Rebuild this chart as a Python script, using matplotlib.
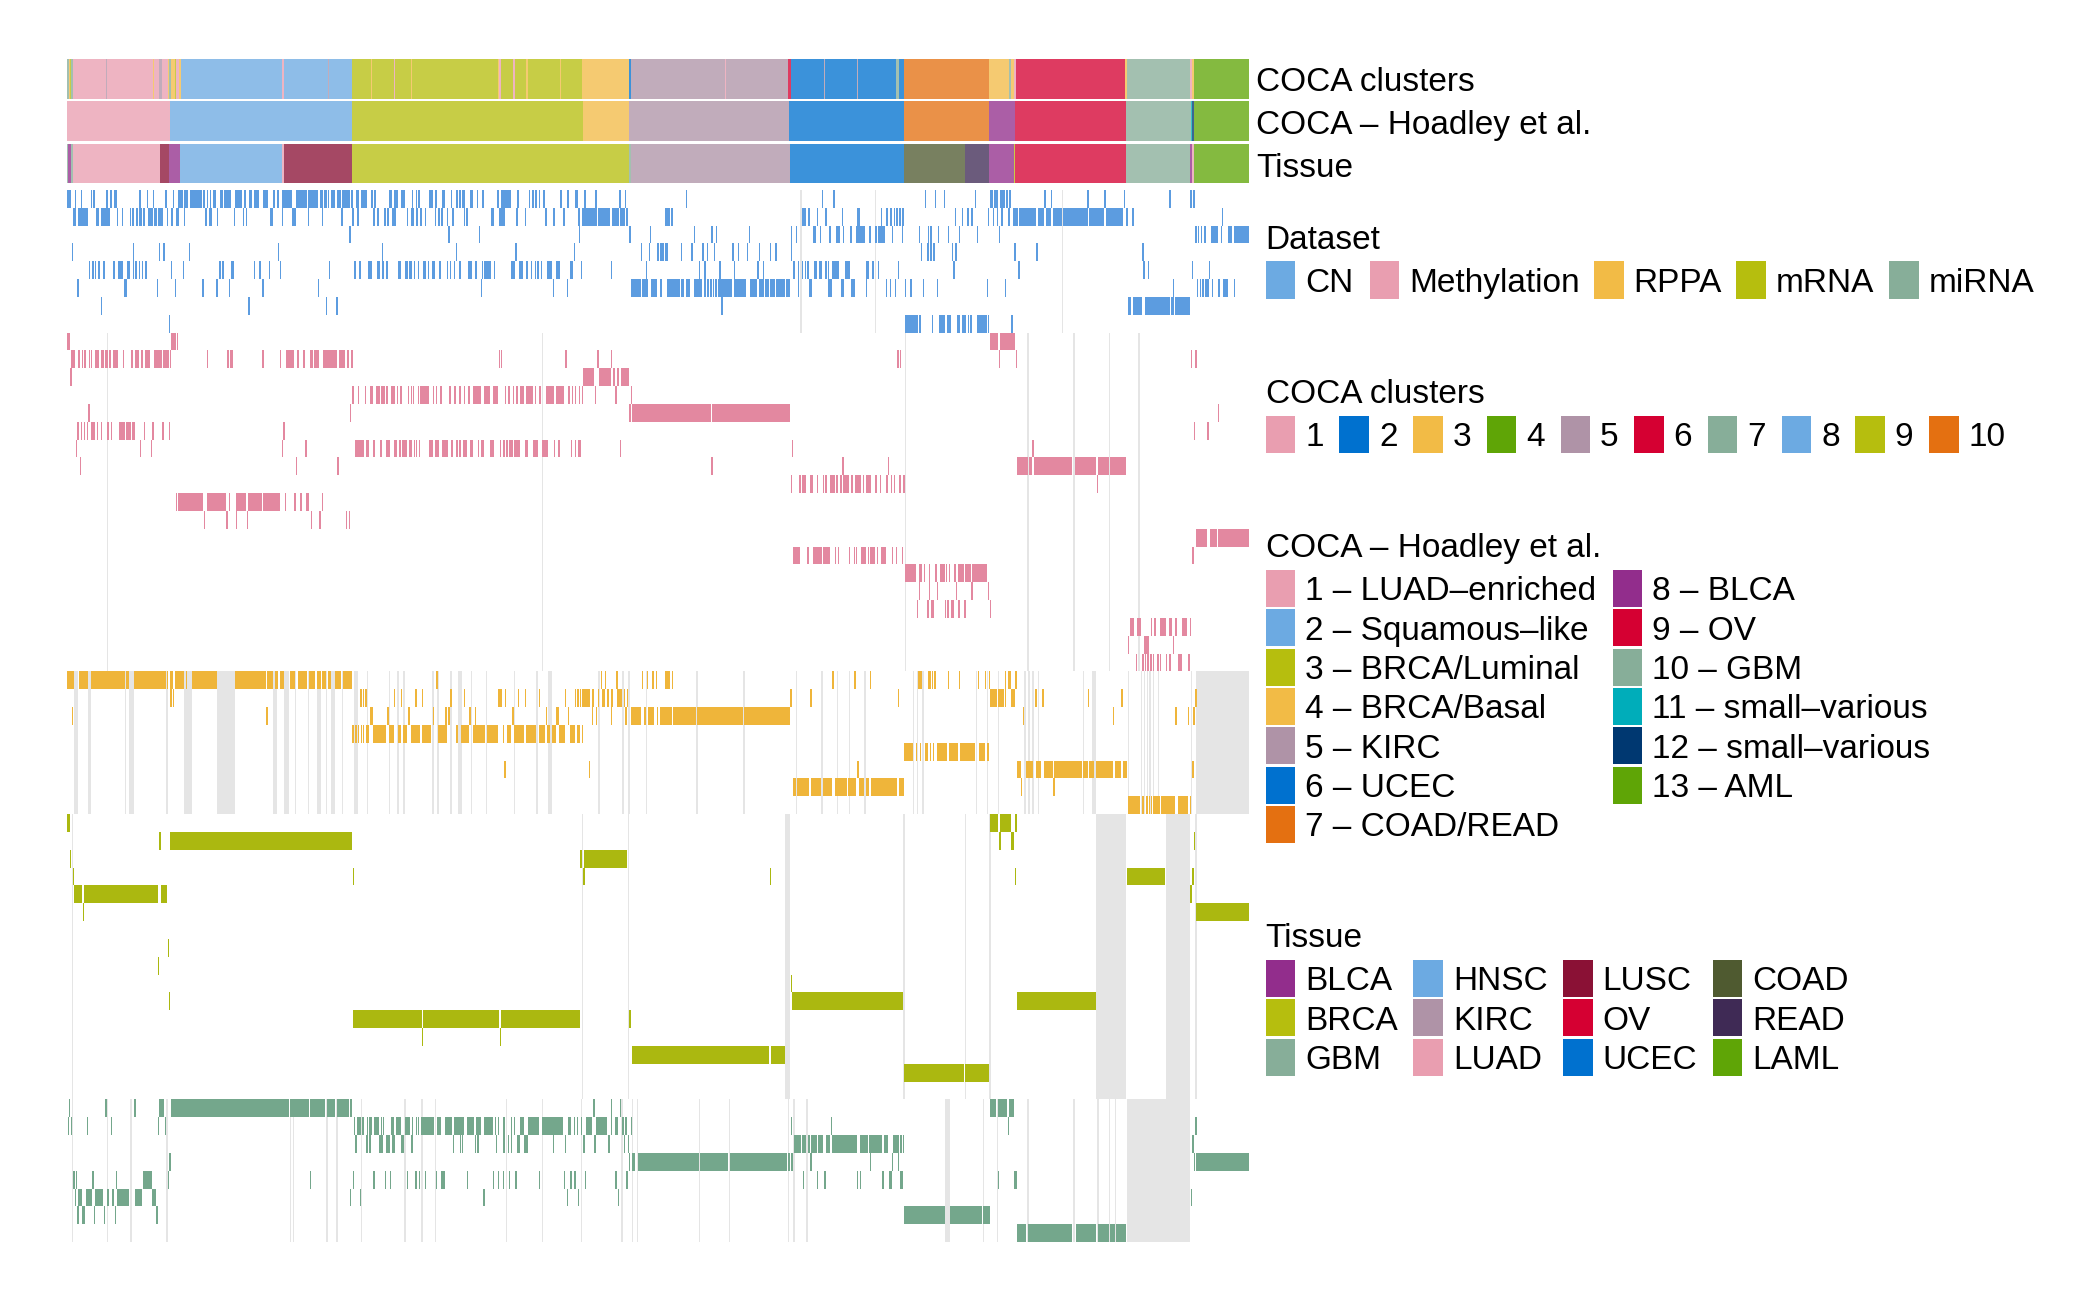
import matplotlib
matplotlib.use("Agg")
import matplotlib.pyplot as plt
from matplotlib.patches import Rectangle

plt.rcParams['font.family'] = ['Liberation Sans', 'DejaVu Sans']

# *_A lists hold the left part of the matrix, *_B the right part (shifted by B_SHIFT)
B_SHIFT = 1543
X_MIN, X_MAX = 43, 3033
TICK = 3.5

CLUSTER_COLORS = {'1': '#E99EB0', '2': '#0071CF', '3': '#F2BB46', '4': '#5FA506', '5': '#AF93A7',
                  '6': '#D50032', '7': '#87AE99', '8': '#6CAAE2', '9': '#B6BE0E', '10': '#E47011'}
HOADLEY_COLORS = {'1 – LUAD–enriched': '#E99EB0', '2 – Squamous–like': '#6CAAE2', '3 – BRCA/Luminal': '#B6BE0E',
                  '4 – BRCA/Basal': '#F2BB46', '5 – KIRC': '#AF93A7', '6 – UCEC': '#0071CF',
                  '7 – COAD/READ': '#E47011', '8 – BLCA': '#922D8C', '9 – OV': '#D50032', '10 – GBM': '#87AE99',
                  '11 – small–various': '#00ADBA', '12 – small–various': '#003871', '13 – AML': '#5FA506'}
TISSUE_COLORS = {'BLCA': '#922D8C', 'BRCA': '#B6BE0E', 'GBM': '#87AE99', 'HNSC': '#6CAAE2', 'KIRC': '#AF93A7',
                 'LUAD': '#E99EB0', 'LUSC': '#8A1135', 'OV': '#D50032', 'UCEC': '#0071CF', 'COAD': '#4F5A30',
                 'READ': '#3F2A55', 'LAML': '#5FA506'}
DATASET_COLORS = {'CN': '#6CAAE2', 'Methylation': '#E99EB0', 'RPPA': '#F2BB46', 'mRNA': '#B6BE0E', 'miRNA': '#87AE99'}

# top annotation tracks: (start, end, category)
TRACK_CLUSTERS = [(43, 47, '7'), (47, 50, '3'), (50, 54, '9'), (54, 58, '7'), (58, 141, '1'), (141, 144, '5'),
                  (144, 260, '1'), (260, 263, '3'), (263, 276, '1'), (276, 283, '5'), (283, 298, '1'), (298, 302, '3'),
                  (302, 305, '7'), (305, 316, '3'), (316, 319, '9'), (319, 327, '1'), (327, 331, '3'),
                  (331, 586, '8'), (586, 592, '1'), (592, 703, '8'), (703, 705, '5'), (705, 764, '8'),
                  (764, 812, '9'), (812, 814, '3'), (814, 870, '9'), (870, 873, '1'), (873, 912, '9'), (912, 915, '3'),
                  (915, 1134, '9'), (1134, 1137, '3'), (1137, 1140, '1'), (1140, 1172, '9'), (1172, 1177, '1'),
                  (1177, 1205, '9'), (1205, 1208, '3'), (1208, 1290, '9'), (1290, 1293, '3'), (1293, 1345, '9'),
                  (1345, 1348, '3'), (1348, 1464, '3'), (1464, 1470, '2'),
                  (1470, 1707, '5'), (1707, 1710, '1'), (1710, 1868, '5'), (1868, 1875, '6'),
                  (1875, 1958, '2'), (1958, 1960, '5'), (1960, 2041, '2'), (2041, 2043, '5'), (2043, 2095, '2'),
                  (2095, 2141, '2'), (2141, 2147, '7'), (2147, 2160, '2'), (2160, 2376, '10'), (2376, 2425, '3'),
                  (2425, 2430, '7'), (2430, 2438, '3'), (2438, 2443, '1'), (2443, 2720, '6'), (2720, 2725, '3'),
                  (2725, 2885, '7'), (2885, 2889, '1'), (2889, 2895, '3'), (2895, 3033, '4')]
TRACK_HOADLEY = [(43, 303, '1 – LUAD–enriched'), (303, 765, '2 – Squamous–like'), (765, 1348, '3 – BRCA/Luminal'),
                 (1348, 1464, '4 – BRCA/Basal'), (1464, 1870, '5 – KIRC'), (1870, 2160, '6 – UCEC'),
                 (2160, 2376, '7 – COAD/READ'), (2376, 2442, '8 – BLCA'), (2442, 2721, '9 – OV'),
                 (2721, 2887, '10 – GBM'), (2887, 2890, '11 – small–various'), (2890, 2895, '12 – small–various'),
                 (2895, 3033, '13 – AML')]
TRACK_TISSUE = [(43, 46, 'GBM'), (46, 53, 'BLCA'), (53, 58, 'GBM'), (58, 277, 'LUAD'), (277, 302, 'LUSC'),
                (302, 330, 'BLCA'), (330, 588, 'HNSC'), (588, 592, 'LUAD'), (592, 765, 'LUSC'), (765, 1464, 'BRCA'),
                (1464, 1470, 'GBM'), (1470, 1871, 'KIRC'), (1871, 2160, 'UCEC'), (2160, 2314, 'COAD'),
                (2314, 2375, 'READ'), (2375, 2438, 'BLCA'), (2438, 2441, 'BRCA'), (2441, 2721, 'OV'),
                (2721, 2884, 'GBM'), (2884, 2890, 'BLCA'), (2890, 2895, 'LUAD'), (2895, 3033, 'LAML')]

CN_A = [
    [(43, 53), (62, 66), (78, 82), (103, 106), (109, 114), (142, 146), (152, 158), (163, 170), 226, 245, 260, (290, 297), 310,
     (323, 336), (340, 349), (353, 384), (387, 392), 396, 404, (412, 419), (431, 437), (440, 458), (468, 485), (492, 497),
     (503, 512), (517, 529), (539, 552), (563, 570), (574, 580), (588, 613), (623, 650), (653, 677), (682, 690), (693, 700),
     703, (712, 722), (725, 736), (739, 759), 762, (774, 782), (787, 803), 813, 820, (858, 866), (870, 880), (887, 898),
     916, 925, 932, (958, 968), 975, (992, 999), 1014, (1027, 1032), 1035, (1042, 1050), (1063, 1069), 1079, 1094,
     (1130, 1137), (1141, 1165), 1182, 1211, 1220, 1228, 1236, 1248, 1291, 1309, (1327, 1335), 1352, 1379, 1440, 1454],
    [(57, 65), (70, 97), (117, 125), (130, 152), 169, 182, 202, 208, 218, (226, 232), (234, 240), (248, 260), (263, 270),
     (273, 286), 296, (306, 311), (318, 326), 339, (391, 396), (401, 410), 422, 465, 488, 496, (557, 563), 586, (613, 623),
     652, 687, 737, 765, (776, 781), (818, 823), (826, 833), (845, 850), (853, 858), (866, 874), 902, (913, 920), (925, 931),
     (936, 941), 948, 973, 982, 990, 1003, 1018, (1046, 1050), 1053, (1116, 1124), (1137, 1150), 1180, 1201, 1253, 1273,
     (1297, 1304), 1336, (1345, 1350), (1352, 1384), (1386, 1416), (1421, 1440), (1443, 1454), (1456, 1463), (1555, 1568)],
    [757, 1008, 1085, 1338, (1464, 1470), 1517],
    [55, 209, 276, 287, 351, 576, 839, 1026, 1177, 1325, 1494, 1514, (1535, 1540), (1545, 1550), (1555, 1563)],
    [98, 107, 114, 122, 135, 160, (173, 185), (196, 203), 209, 216, 224, 232, 241, 305, 336, 428, 436, (459, 465), 515,
     (529, 535), 553, 582, 705, (769, 774), (781, 786), (804, 814), (828, 834), (839, 846), (851, 856), (881, 888), (898, 905),
     (909, 915), 921, 930, (944, 950), 955, (967, 973), (983, 990), 1003, 1012, 1022, 1035, (1057, 1068), (1075, 1081), 1092,
     (1098, 1116), 1122, (1166, 1176), (1186, 1197), (1203, 1210), 1216, 1226, 1233, 1242, (1256, 1271), (1280, 1290),
     (1315, 1323), 1342, 1418, 1507],
    [69, (188, 194), 270, 316, 385, 421, 452, 537, 677, 1089, 1272, 1307, (1470, 1494), (1498, 1513), (1520, 1536),
     (1542, 1549), (1560, 1568)],
    [129, 502, 698, 724],
    [300],
]
CN_B = [
    [65, 410, 438, 670, 695, 718, 797, (836, 842), (845, 854), (859, 864), (866, 872), (875, 881), 884, 972, 989, 1081, 1124,
     1173, 1288, 1342, 1349],
    [13, 20, (28, 33), (358, 370), (375, 380), 397, 418, 460, (498, 507), 558, (572, 578), (582, 588), 591, 598, 605, (612, 617),
     746, 763, (776, 782), (788, 793), 829, 842, 852, 863, 881, (893, 905), (908, 950), (955, 972), (976, 990), (993, 1018),
     (1020, 1082), (1085, 1124), (1128, 1172), (1179, 1184), 1195, 1421],
    [85, 130, 142, 225, 331, 343, (386, 395), 405, 428, (446, 455), 462, 481, (495, 506), (507, 519), 530, (545, 550), (552, 558),
     (560, 568), 587, 611, 654, 677, 684, 703, 728, 756, 801, 857, (1353, 1358), 1361, 1368, (1375, 1380), (1395, 1412), 1418,
     (1437, 1448), (1451, 1490)],
    [0, 6, (13, 18), 52, 79, (107, 112), 118, 136, 183, 197, 220, 250, 278, 292, 331, 660, (675, 680), 684, 691, 738, 747, 896,
     952, 1220],
    [98, 112, 150, 187, 246, 260, (336, 342), 349, 358, 366, 373, (389, 397), (403, 410), 418, 424, (434, 452), (469, 481),
     (522, 530), (536, 542), 551, 601, 742, 906, 1223, 1234, 1346, 1388],
    [2, (23, 50), (52, 62), (66, 76), (86, 107), (111, 117), (119, 124), 127, 134, 140, (147, 182), (188, 218), (227, 245),
     (250, 262), (265, 276), (279, 291), (293, 315), (318, 328), 349, (377, 384), (425, 434), (457, 466), (484, 494), 520, 571,
     581, 594, 619, 633, 665, 700, 827, 872, 1297, 1358, 1366, 1372, 1379, 1385, 1396, (1411, 1417), (1424, 1437), 1452],
    [155, (1184, 1191), (1196, 1220), (1228, 1290), (1293, 1300), (1304, 1342)],
    [(621, 652), 656, 688, (706, 722), (726, 737), (751, 760), (763, 775), 778, 785, (803, 826), 830, 889],
]
CN_NA_A = []
CN_NA_B = [355, 543, 1017]

METH_A = [
    [(43, 50), (307, 318), 321],
    [(54, 64), (70, 75), 81, 87, 98, 103, (113, 125), (128, 136), (140, 146), 150, (160, 173), 184, 206, (215, 225), (230, 236),
     (240, 254), (262, 283), (287, 300), 303, 396, 449, (455, 464), 537, 582, (596, 617), (625, 631), (639, 645), (658, 666),
     (667, 680), (690, 725), (731, 747), 752, 762, 1135, 1141, (1302, 1308), (1383, 1390), 1419],
    [51, (1348, 1377), (1390, 1418), (1424, 1430), (1434, 1440), (1444, 1464)],
    [(765, 770), 779, 797, (809, 817), (824, 834), (838, 848), 851, (863, 872), 878, 886, 905, 912, 918, 930, (937, 958), 968, 976,
     (986, 992), 1010, 1023, 1035, 1046, 1058, (1070, 1090), (1099, 1114), (1120, 1134), 1150, 1159, 1170, 1180, (1190, 1198),
     (1204, 1222), 1226, (1237, 1243), (1254, 1275), (1281, 1301), (1311, 1316), 1320, 1328, 1337, 1345, 1378, 1430, 1469],
    [97, 758, 1465, (1472, 1568)],
    [69, 78, 86, 93, (103, 115), 119, 129, (145, 150), 154, (174, 190), (192, 204), (207, 215), 237, 259, 284, 300, 590],
    [66, 227, 255, 586, 646, (771, 794), (800, 808), (818, 823), 836, (850, 860), (870, 878), (882, 888), (890, 903), (907, 915), 920,
     925, 933, (958, 970), (975, 985), (992, 1007), (1015, 1020), (1027, 1032), 1035, (1045, 1055), (1063, 1070), 1082, (1090, 1097),
     (1112, 1122), 1138, 1147, 1154, (1160, 1170), (1175, 1190), (1202, 1210), (1222, 1234), (1245, 1260), 1275, 1286, 1318, 1327,
     (1335, 1344), 1441],
    [75, 622, 727],
    [],
    [319, (325, 388), (398, 444), 453, (470, 497), (502, 536), (540, 581), 594, 618, 633, (648, 655), 687],
    [389, 446, 470, 498, 660, 681, 748, 756],
    [], [], [], [], [], [], [], [],
]
METH_B = [
    [(836, 856), (860, 898)],
    [600, 607, 857, 900, 1343, 1354],
    [],
    [],
    [(0, 128), (132, 329), 1411],
    [1350, (1384, 1390)],
    [333, 942],
    [130, 461, 577, (903, 930), (934, 941), (945, 1043), (1050, 1103), (1107, 1135), (1138, 1180)],
    [331, 352, (358, 370), (380, 388), 397, 412, 418, (431, 443), (446, 450), (455, 461), (463, 478), (482, 488), (494, 508), 513,
     (522, 534), (544, 550), 556, 573, 584, 591, 605, 616, 1105],
    [],
    [],
    [(1357, 1384), (1391, 1408), (1412, 1490)],
    [(336, 354), (371, 378), (388, 410), (413, 430), 442, 450, 478, 490, 495, (509, 520), 525, (532, 543), 549, (560, 572), 586,
     596, 611, 1347],
    [(621, 648), (656, 662), 668, 680, (695, 702), (708, 720), 723, 730, (744, 750), (755, 768), (772, 786), (790, 828)],
    [655, 680, 700, 748, 788, 829],
    [650, (675, 680), (686, 693), 721, (727, 732), (735, 743), 755, 770, 834],
    [(1188, 1200), (1207, 1218), 1241, 1250, (1265, 1280), (1287, 1295), 1304, (1321, 1332), 1340],
    [1184, (1225, 1236), 1298],
    [1203, 1220, 1226, 1233, 1240, 1246, 1258, 1264, 1280, 1288, (1311, 1320), 1336],
]
METH_NA_A = [143, 1244]
METH_NA_B = [619, 929, (1044, 1049), 1136, 1210]

RPPA_A = [
    [(43, 60), (73, 96), (104, 189), (191, 201), (212, 293), 296, (303, 312), (315, 339), 343, (360, 422), (468, 546), (550, 563),
     (570, 578), (582, 592), (606, 620), (628, 650), (655, 670), (675, 685), (689, 698), (702, 712), (722, 736), (740, 763), 977,
     1393, 1403, 1433, 1497, 1509, 1524, 1532, (1556, 1568)],
    [304, 310, 785, 791, 798, 870, 887, 924, 941, 1013, 1046, (1134, 1143), 1150, 1184, 1201, 1236, 1303, 1328, 1334, 1340,
     (1347, 1360), 1362, (1370, 1377), 1385, (1396, 1403), (1408, 1415), 1420, (1435, 1448), 1451, 1459],
    [55, 547, (810, 816), 853, 906, 969, 1000, 1008, 1061, 1074, 1169, 1254, (1281, 1287), 1310, 1370, 1381, 1418, 1455,
     (1470, 1496), 1503, (1513, 1528), 1535, (1542, 1568)],
    [765, 772, 779, 786, 792, (800, 808), (817, 851), (858, 870), (880, 887), (894, 904), (912, 937), (942, 965), (982, 1005),
     (1026, 1033), (1040, 1060), (1070, 1100), (1105, 1134), 1145, (1155, 1167), (1175, 1198), (1204, 1230), (1238, 1252),
     (1258, 1266), (1270, 1280), (1288, 1302), (1315, 1327), (1332, 1340), 1345],
    [],
    [1149, 1363],
    [],
    [],
]
RPPA_B = [
    [13, 20, 30, (435, 441), 492, 531, (652, 662), (678, 685), 687, 694, 728, 756, 804, 822, 832, 872, (880, 887), 899],
    [(329, 335), 380, 601, (836, 852), (856, 870), 873, (888, 898), 949, 967, 1082, 1167, 1354],
    [(0, 12), (15, 20), (22, 30), (34, 91), (94, 210), (212, 329), 918, 1146, (1303, 1309), 1335, 1349],
    [],
    [(618, 640), 647, 657, (670, 677), 683, 690, (702, 726), (730, 755), (758, 798), (808, 822), 828],
    [499, (903, 912), (927, 943), (950, 965), (972, 993), (997, 1067), (1071, 1082), (1086, 1097), (1103, 1145), (1150, 1167),
     (1172, 1181), 1347],
    [(336, 343), (346, 378), (382, 408), (413, 434), (442, 473), (476, 496), (503, 516), (522, 530), (534, 600), (605, 617), 913, 995],
    [(1183, 1215), 1220, 1230, 1236, 1242, (1248, 1264), (1268, 1303), (1310, 1335), 1340],
]
RPPA_NA_A = [(60, 71), (96, 103), 189, (201, 212), 294, (340, 359), (422, 468), (565, 575), (592, 605), 620, 652, (675, 686), 698,
             (712, 722), 738, (768, 778), 802, 857, (878, 884), (892, 898), 967, 980, (1012, 1017), (1032, 1042), 1064, 1103, 1174,
             1230, (1260, 1270), (1385, 1392), 1448, 1463, 1507]
RPPA_NA_B = [92, 211, 344, (408, 412), 447, 478, 517, 640, 649, 664, 799, 826, 854, 922, 932, 942, 956, 1069, (1093, 1103), 1183,
             1216, 1224, 1232, 1238, 1246, 1260, 1343, (1356, 1490)]

MRNA_A = [
    [(43, 50)],
    [(275, 282), (303, 764)],
    [50, 1341, (1352, 1460)],
    [58, 766, 1349],
    [(61, 80), (87, 272), (282, 296)],
    [83],
    [],
    [298],
    [273],
    [],
    [300],
    [(767, 940), (943, 1137), (1140, 1340), (1464, 1470)],
    [941, 1138],
    [(1471, 1568)],
    [],
    [],
]
MRNA_B = [
    [(836, 856), (860, 887), 899],
    [858, (889, 895), 1350],
    [],
    [278, 897, (1181, 1278), 1347],
    [1342],
    [(1356, 1490)],
    [],
    [],
    [],
    [331],
    [(333, 614), (903, 1103)],
    [],
    [],
    [(0, 276), (281, 315)],
    [(618, 769), (772, 832)],
    [],
]
MRNA_NA_A = [55, 1346, 1462]
MRNA_NA_B = [(315, 329), 616, 771, 833, (1103, 1180), (1279, 1341), 1354]

MIRNA_A = [
    [48, 140, 213, (276, 288), (307, 605), (608, 655), (658, 696), (700, 722), (726, 757), 760, 1374, 1419, 1441],
    [45, 52, 93, 154, 273, 291, 768, (776, 786), (790, 795), 801, (806, 815), (820, 832), 837, 842, (863, 870), (874, 887), (898, 911),
     915, 926, 930, (939, 972), (979, 990), (999, 1018), (1021, 1046), (1055, 1072), (1078, 1090), (1098, 1120), 1125, 1133, 1147,
     1165, 1173, (1190, 1199), (1210, 1238), (1245, 1298), (1310, 1318), 1325, 1333, 1342, (1355, 1372), (1380, 1410), 1418,
     (1430, 1436), 1448, 1455, 1469],
    [772, 800, (807, 812), (832, 842), (850, 860), (865, 872), (888, 895), (912, 918), 1019, 1036, 1042, 1075, 1081, 1127, 1147, 1158,
     1166, (1182, 1190), (1200, 1210), 1272, 1303, 1349, 1377, 1412, 1451, 1461],
    [(300, 306), 1464, (1472, 1480), (1488, 1568)],
    [59, 66, 107, 167, (234, 257), 298, 657, 766, 818, 847, 860, 902, 924, 933, 948, 976, (990, 998), 1054, 1120, 1133, 1145, 1160,
     (1176, 1182), 1236, 1300, 1316, 1326, 1353, 1430, 1458],
    [62, (71, 82), (90, 105), (113, 134), (143, 150), (156, 162), (170, 200), (214, 233), (257, 268), 758, 783, 1096, 1307, 1335, 1437],
    [69, (82, 89), 111, 136, 164, 269],
    [],
]
MIRNA_B = [
    [(836, 849), (856, 878), (884, 895)],
    [331, 432, 880, 1354],
    [(340, 356), (360, 370), 375, (383, 397), (400, 413), (421, 430), (434, 498), (506, 525), (530, 562), (566, 578), (590, 604), 608,
     615, 1347],
    [(0, 98), (100, 172), (177, 322), 325, 332, 380, 531, 587, 601, 1350, (1356, 1490)],
    [362, 397, (414, 420), 498, 506, 562, (579, 586), (607, 614), 854, (896, 902)],
    [1343],
    [(618, 720), (733, 815), (818, 835)],
    [(903, 925), (932, 1043), (1052, 1103), (1108, 1135), (1139, 1150), (1153, 1180)],
]
MIRNA_NA_A = [55, 143, (202, 207), 294, 606, 614, 699, 724, 787, 896, 939, 973, 1153, 1244, 1342, 1445, 1472, 1485]
MIRNA_NA_B = [98, 174, 323, 337, 370, (720, 733), 816, 852, 929, (1044, 1050), 1106, 1135, 1151, (1181, 1341)]

CN_COLOR = '#5C9CE0'
METH_COLOR = '#E388A0'
RPPA_COLOR = '#EFB53A'
MRNA_COLOR = '#ABB810'
MIRNA_COLOR = '#74A78C'
NA_COLOR = '#E5E5E5'


def spans(items, shift=0):
    out = []
    for it in items:
        if isinstance(it, tuple):
            out.append((it[0] + shift, it[1] - it[0]))
        else:
            out.append((it + shift, TICK))
    return out


def draw_block(ax, row0, rows_a, rows_b, na_a, na_b, color):
    n = len(rows_a)
    na = spans(na_a) + spans(na_b, B_SHIFT)
    if na:
        ax.broken_barh(na, (row0, n), facecolors=NA_COLOR, linewidth=0)
    for i in range(n):
        ax.broken_barh(spans(rows_a[i]) + spans(rows_b[i], B_SHIFT), (row0 + i, 1), facecolors=color, linewidth=0)
    return row0 + n


def px_axes(fig, left, top, right, bottom):
    W, H = 2100, 1300
    return fig.add_axes([left / W, 1 - bottom / H, (right - left) / W, (bottom - top) / H])


fig = plt.figure(figsize=(21, 13), dpi=100, facecolor='white')

# top tracks
ax_top = px_axes(fig, 67, 59.3, 1249, 183)
tracks = [(TRACK_CLUSTERS, CLUSTER_COLORS), (TRACK_HOADLEY, HOADLEY_COLORS), (TRACK_TISSUE, TISSUE_COLORS)]
for i, (track, colors) in enumerate(tracks):
    for start, end, cat in track:
        ax_top.broken_barh([(start, end - start)], (i, 0.935), facecolors=colors[cat], alpha=0.77, linewidth=0)
ax_top.set_xlim(X_MIN, X_MAX)
ax_top.set_ylim(2.935, 0)
ax_top.axis('off')

# binary membership matrix
ax = px_axes(fig, 67, 190, 1249, 1242)
r = draw_block(ax, 0, CN_A, CN_B, CN_NA_A, CN_NA_B, CN_COLOR)
r = draw_block(ax, r, METH_A, METH_B, METH_NA_A, METH_NA_B, METH_COLOR)
r = draw_block(ax, r, RPPA_A, RPPA_B, RPPA_NA_A, RPPA_NA_B, RPPA_COLOR)
r = draw_block(ax, r, MRNA_A, MRNA_B, MRNA_NA_A, MRNA_NA_B, MRNA_COLOR)
r = draw_block(ax, r, MIRNA_A, MIRNA_B, MIRNA_NA_A, MIRNA_NA_B, MIRNA_COLOR)
ax.set_xlim(X_MIN, X_MAX)
ax.set_ylim(r, 0)
ax.axis('off')

# labels and legends are placed in figure pixels
lg = px_axes(fig, 0, 0, 2100, 1300)
lg.set_xlim(0, 2100)
lg.set_ylim(1300, 0)
lg.axis('off')
lg.patch.set_alpha(0)
FS = 24

for label, yc in zip(['COCA clusters', 'COCA – Hoadley et al.', 'Tissue'], [79, 122, 165]):
    lg.text(1256.5, yc, label, fontsize=FS, va='center_baseline', ha='left')


def swatch(x, top, label, color, h=37.5):
    lg.add_patch(Rectangle((x, top), 29.5, h, facecolor=color, linewidth=0))
    lg.text(x + 39.5, top + h - 6.5, label, fontsize=FS, va='baseline', ha='left')


LEFT = 1265.7
lg.text(LEFT, 249, 'Dataset', fontsize=FS, va='baseline')
for name, x in zip(DATASET_COLORS, [LEFT, 1369.5, 1594, 1736, 1889]):
    swatch(x, 261, name, DATASET_COLORS[name])

lg.text(LEFT, 403, 'COCA clusters', fontsize=FS, va='baseline')
for i, name in enumerate(CLUSTER_COLORS):
    swatch(LEFT + 73.7 * i, 415.5, name, CLUSTER_COLORS[name])

lg.text(LEFT, 557, 'COCA – Hoadley et al.', fontsize=FS, va='baseline')
for i, name in enumerate(HOADLEY_COLORS):
    col, row = (0, i) if i < 7 else (1, i - 7)
    swatch(LEFT + col * 347, 570 + row * 39.3, name, HOADLEY_COLORS[name], h=37)

lg.text(LEFT, 947, 'Tissue', fontsize=FS, va='baseline')
for i, name in enumerate(TISSUE_COLORS):
    swatch([LEFT, 1413.4, 1563, 1712.8][i // 3], 960 + (i % 3) * 39.3, name, TISSUE_COLORS[name], h=37)

fig.savefig('out.png', dpi=100, facecolor='white')
